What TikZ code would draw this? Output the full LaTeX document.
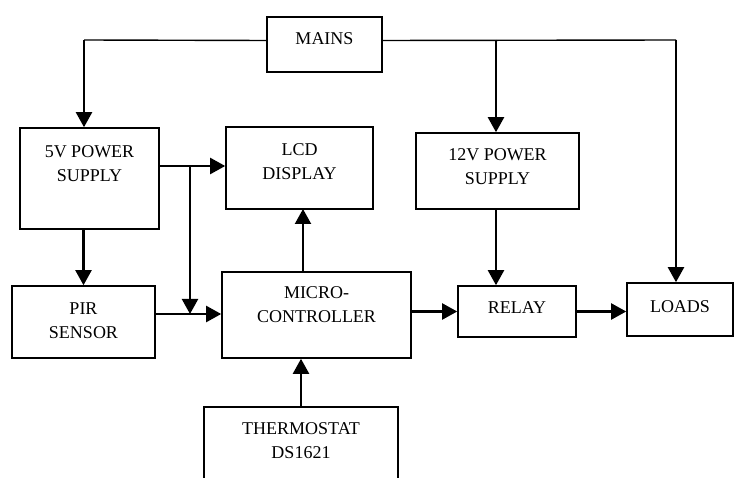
\documentclass[tikz,border=0pt]{standalone}
\usepackage{fontspec}
\setmainfont{Liberation Serif}
\usetikzlibrary{arrows.meta}

\begin{document}
\begin{tikzpicture}[
  x=1pt, y=-1pt,
  every node/.style={align=center, font=\fontsize{18}{24}\selectfont},
  block/.style={draw, line width=1.6pt, inner sep=0pt},
  arr/.style={-{Triangle[length=15pt,width=16pt]}, line width=2.2pt},
  feed/.style={line width=1.4pt}
]
  \clip (0,0) rectangle (739,478);

  \node[block, minimum width=115, minimum height=55, text depth=11] (mains) at (324.5,44.5) {MAINS};
  \node[block, minimum width=139, minimum height=101, text depth=29] (ps5) at (89.5,178.5) {5V POWER\\SUPPLY};
  \node[block, minimum width=147, minimum height=82, text depth=12] (lcd) at (299.5,168) {LCD\\DISPLAY};
  \node[block, minimum width=163, minimum height=76, text depth=8] (ps12) at (497.5,171) {12V POWER\\SUPPLY};
  \node[block, minimum width=143, minimum height=72, text depth=2] (pir) at (83.5,322) {PIR\\SENSOR};
  \node[block, minimum width=189, minimum height=86, text depth=20] (mcu) at (316.5,315) {MICRO-\\CONTROLLER};
  \node[block, minimum width=118, minimum height=51, text depth=7] (relay) at (517,311.5) {RELAY};
  \node[block, minimum width=106, minimum height=53, text depth=6] (loads) at (680,309.5) {LOADS};
  \node[block, minimum width=194, minimum height=113, text depth=45] (therm) at (301,463.5) {THERMOSTAT\\DS1621};

  % junctions
  \coordinate (mw) at ([yshift=4pt]mains.west);
  \coordinate (me) at ([yshift=4pt]mains.east);
  \coordinate (jleft) at (84,40);
  \coordinate (j12) at (496,40);
  \coordinate (jright) at (676,40);
  \coordinate (j5) at (190,166);
  \coordinate (jpir) at (190,314);
  \coordinate (lcdin) at (303,209);

  % mains feed
  \draw[feed] (mw) -- (jleft);
  \draw[feed] (me) -- (jright);
  \draw[arr] (jleft) -- (jleft |- ps5.north);
  \draw[arr] (j12) -- (j12 |- ps12.north);
  \draw[arr] (jright) -- (jright |- loads.north);

  % 5V side
  \draw[arr] (j5 -| ps5.east) -- (j5 -| lcd.west);
  \draw[arr] (j5) -- (jpir);
  \draw[arr] (pir.north |- ps5.south) -- (pir.north);
  \draw[arr] (jpir -| pir.east) -- (jpir -| mcu.west);
  \draw[arr] (lcdin |- mcu.north) -- (lcdin);
  \draw[arr] (therm.north) -- (therm.north |- mcu.south);

  % 12V side
  \draw[arr] (j12 |- ps12.south) -- (j12 |- relay.north);
  \draw[arr] (mcu.east |- relay.west) -- (relay.west);
  \draw[arr] (relay.east) -- (relay.east -| loads.west);
\end{tikzpicture}
\end{document}
